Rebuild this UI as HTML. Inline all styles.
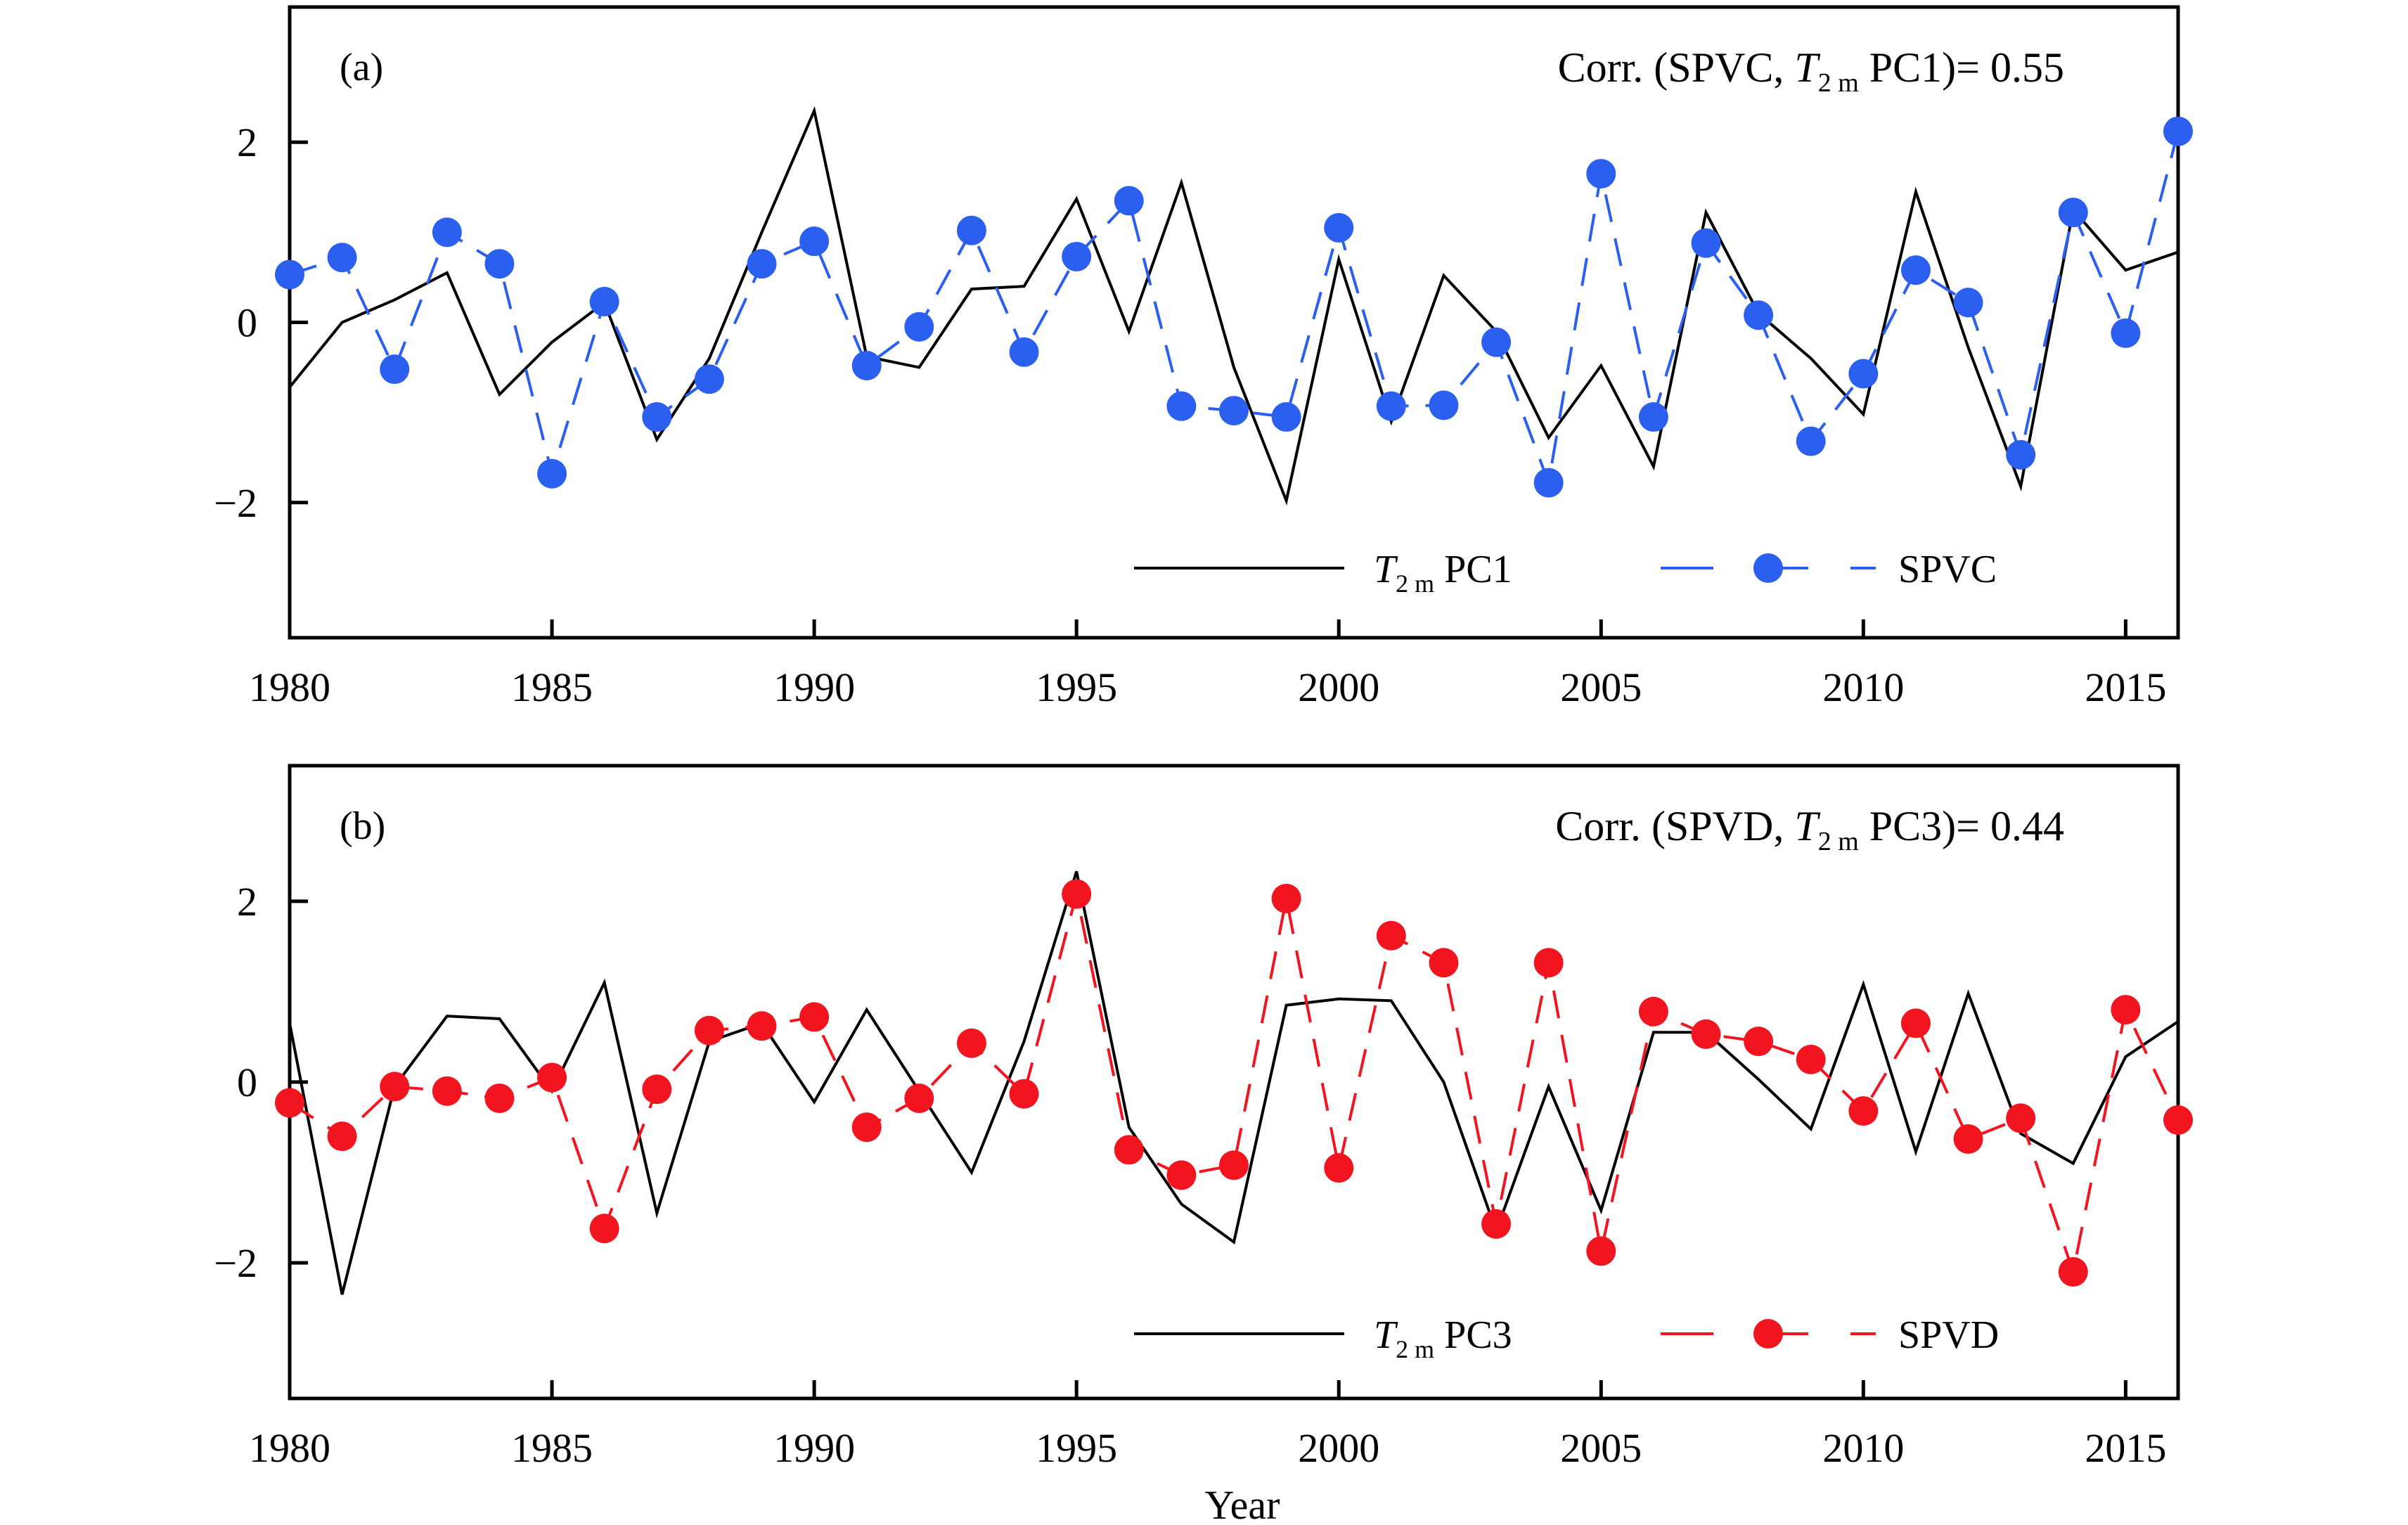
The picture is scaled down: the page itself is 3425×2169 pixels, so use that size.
<!DOCTYPE html>
<html><head><meta charset="utf-8">
<style>
html,body{margin:0;padding:0;background:#fff;}
svg{display:block;font-family:"Liberation Serif","DejaVu Serif",serif;}
</style></head>
<body>
<svg id="chart" width="3425" height="2169" viewBox="0 0 3425 2169" xmlns="http://www.w3.org/2000/svg"></svg>
<script>
const years = [];
for (let y = 1980; y <= 2016; y++) years.push(y);
const xTicks = [1980, 1985, 1990, 1995, 2000, 2005, 2010, 2015];
const yTicks = [-2, 0, 2];
const yTickLabels = ["\u22122", "0", "2"];
const t2mPC1 = [-0.72,0.0,0.25,0.55,-0.8,-0.22,0.22,-1.3,-0.4,1.0,2.35,-0.38,-0.5,0.37,0.4,1.37,-0.1,1.55,-0.5,-1.98,0.7,-1.1,0.52,-0.1,-1.28,-0.48,-1.6,1.22,0.1,-0.4,-1.02,1.45,-0.28,-1.82,1.25,0.58,0.78];
const spvc = [0.53,0.72,-0.52,1.0,0.65,-1.68,0.23,-1.05,-0.63,0.65,0.9,-0.48,-0.05,1.02,-0.33,0.73,1.35,-0.93,-0.98,-1.05,1.05,-0.93,-0.92,-0.22,-1.78,1.65,-1.05,0.88,0.08,-1.32,-0.57,0.58,0.22,-1.47,1.22,-0.12,2.12];
const t2mPC3 = [0.65,-2.35,-0.05,0.73,0.7,-0.1,1.1,-1.45,0.45,0.65,-0.22,0.8,-0.1,-1.0,0.45,2.33,-0.5,-1.35,-1.77,0.85,0.92,0.9,0.0,-1.65,-0.05,-1.42,0.55,0.55,0.03,-0.52,1.08,-0.77,0.98,-0.57,-0.9,0.28,0.67];
const spvd = [-0.23,-0.6,-0.05,-0.1,-0.18,0.05,-1.62,-0.08,0.57,0.62,0.72,-0.5,-0.18,0.43,-0.13,2.08,-0.75,-1.03,-0.92,2.03,-0.95,1.62,1.32,-1.57,1.32,-1.87,0.78,0.53,0.45,0.25,-0.32,0.65,-0.63,-0.4,-2.1,0.8,-0.42];

const NS = "http://www.w3.org/2000/svg";
const svg = document.getElementById("chart");
function mk(tag, attrs, parent) {
  const e = document.createElementNS(NS, tag);
  for (const k in attrs) e.setAttribute(k, attrs[k]);
  (parent || svg).appendChild(e);
  return e;
}
const X0 = 412, X1 = 3098;
function xs(yr) { return X0 + (yr - 1980) * (X1 - X0) / 36; }

function panel(opt) {
  const top = opt.top, bot = opt.bot;
  const ys = v => top + (3.5 - v) * (bot - top) / 7;
  const g = mk("g", {});
  
  
  const fr = mk("rect", {x: X0, y: top, width: X1 - X0, height: bot - top, fill: "none", stroke: "#000", "stroke-width": 5}, g);
  
  
  xTicks.forEach(t => {
    const x = xs(t);
    const l = mk("line", {x1: x, x2: x, y1: bot, y2: bot - 26, stroke: "#000", "stroke-width": 5}, g);
    
    
    const tx = mk("text", {x: x, y: bot + 90, "font-size": 58, "text-anchor": "middle"}, g);
    tx.textContent = t;
    
    
  });
  yTicks.forEach((t, i) => {
    const y = ys(t);
    const l = mk("line", {x1: X0, x2: X0 + 26, y1: y, y2: y, stroke: "#000", "stroke-width": 5}, g);
    
    
    const tx = mk("text", {x: 366, y: y + 20, "font-size": 58, "text-anchor": "end"}, g);
    tx.textContent = yTickLabels[i];
    
    
  });
  const pb = mk("polyline", {points: years.map((yr, i) => xs(yr) + "," + ys(opt.black[i])).join(" "), fill: "none", stroke: "#000", "stroke-width": 4, "stroke-linejoin": "miter"}, g);
  
  
  const pc = mk("polyline", {points: years.map((yr, i) => xs(yr) + "," + ys(opt.col[i])).join(" "), fill: "none", stroke: opt.color, "stroke-width": 4, "stroke-dasharray": "40 24"}, g);
  
  
  years.forEach((yr, i) => {
    const c = mk("circle", {cx: xs(yr), cy: ys(opt.col[i]), r: 21, fill: opt.color}, g);
    
    
  });
  const pl = mk("text", {x: 483, y: top + 104, "font-size": 56}, g);
  pl.textContent = opt.label;
  
  
  const ct = mk("text", {x: 2936, y: top + 106, "font-size": 60, "text-anchor": "end"}, g);
  ct.innerHTML = 'Corr. (' + opt.colName.toUpperCase() + ', <tspan font-style="italic">T</tspan><tspan font-size="38" dy="14">2 m</tspan><tspan dy="-14"> ' + opt.pc + ')= ' + opt.corr + '</tspan>';
  
  
  const ly = opt.legY;
  const lg = mk("g", {}, g);
  
  
  mk("line", {x1: 1613, x2: 1912, y1: ly, y2: ly, stroke: "#000", "stroke-width": 4}, lg);
  const l1 = mk("text", {x: 1954, y: ly + 20, "font-size": 56}, lg);
  l1.innerHTML = '<tspan font-style="italic">T</tspan><tspan font-size="36" dy="14">2 m</tspan><tspan dy="-14"> ' + opt.pc + '</tspan>';
  
  
  mk("line", {x1: 2362, x2: 2668, y1: ly, y2: ly, stroke: opt.color, "stroke-width": 4, "stroke-dasharray": "75 60"}, lg);
  mk("circle", {cx: 2515, cy: ly, r: 21, fill: opt.color}, lg);
  const l2 = mk("text", {x: 2700, y: ly + 20, "font-size": 56}, lg);
  l2.textContent = opt.colName.toUpperCase();
  
  
}
panel({name: "panel-a", top: 10, bot: 907, black: t2mPC1, col: spvc, color: "#2a5ff0", blackName: "t2m-pc1", colName: "spvc", pc: "PC1", corr: "0.55", label: "(a)", legY: 808});
panel({name: "panel-b", top: 1089, bot: 1989, black: t2mPC3, col: spvd, color: "#f2141e", blackName: "t2m-pc3", colName: "spvd", pc: "PC3", corr: "0.44", label: "(b)", legY: 1897});
const xl = mk("text", {x: 1767, y: 2160, "font-size": 58, "text-anchor": "middle"});
xl.textContent = "Year";


</script>
</body></html>
